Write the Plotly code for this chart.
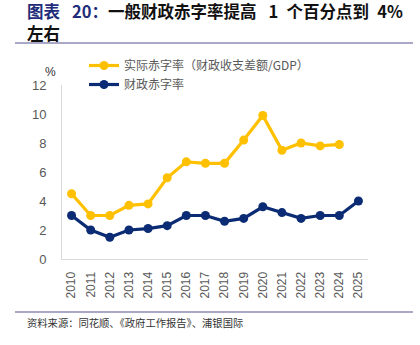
import plotly.graph_objects as go

# Years on the category axis
years = [str(y) for y in range(2010, 2026)]

# Actual deficit rate (fiscal revenue-expenditure gap / GDP), %; no 2025 value
actual_deficit = [4.5, 3.0, 3.0, 3.7, 3.8, 5.6, 6.7, 6.6, 6.6, 8.2, 9.9, 7.5, 8.0, 7.8, 7.9, None]
# Official budget deficit rate, %
budget_deficit = [3.0, 2.0, 1.5, 2.0, 2.1, 2.3, 3.0, 3.0, 2.6, 2.8, 3.6, 3.2, 2.8, 3.0, 3.0, 4.0]

y_ticks = [0, 2, 4, 6, 8, 10, 12]

W, H = 420, 345
L, R, T, B = 62, 52, 85, 86
PW, PH = W - L - R, H - T - B

YELLOW = "#FFC000"
NAVY = "#0B2C74"
GRAY = "#595959"
CJK = "Noto Sans CJK SC"
EN = "\u2002"


def px_x(x):
    return (x - L) / PW


def px_y(y):
    return (H - B - y) / PH


fig = go.Figure()
fig.add_trace(go.Scatter(
    x=years, y=actual_deficit, mode="lines+markers",
    name="实际赤字率（财政收支差额/GDP）",
    line=dict(color=YELLOW, width=3.2),
    marker=dict(color=YELLOW, size=9),
))
fig.add_trace(go.Scatter(
    x=years, y=budget_deficit, mode="lines+markers",
    name="财政赤字率",
    line=dict(color=NAVY, width=3.2),
    marker=dict(color=NAVY, size=9),
))

fig.update_layout(
    width=W, height=H,
    margin=dict(l=L, r=R, t=T, b=B, autoexpand=False),
    paper_bgcolor="white", plot_bgcolor="white",
    font=dict(family=CJK, color=GRAY),
    showlegend=True,
    legend=dict(
        x=px_x(84), y=px_y(51), xanchor="left", yanchor="top",
        bgcolor="rgba(0,0,0,0)",
        font=dict(size=12, color=GRAY, family=CJK),
        tracegroupgap=0, itemwidth=30,
    ),
    xaxis=dict(
        type="category", range=[-0.5, len(years) - 0.5],
        tickangle=-90, showgrid=False, automargin=False,
        showline=True, linecolor="#D9D9D9", linewidth=1,
        ticks="outside", ticklen=7, tickcolor="rgba(0,0,0,0)",
        tickfont=dict(size=12, color=GRAY, family="Liberation Sans"),
    ),
    yaxis=dict(
        range=[0, 12], tickvals=y_ticks, showgrid=False, zeroline=False,
        automargin=False,
        showline=True, linecolor="#D9D9D9", linewidth=1,
        ticks="outside", ticklen=12, tickcolor="rgba(0,0,0,0)",
        tickfont=dict(size=13, color=GRAY, family="Liberation Sans"),
    ),
)

# Title, set as two separate lines
title_lines = [
    (11, f"<span style='color:#1F2D7A'><b>图表{EN} 20：</b></span>"
         f"<b>一般财政赤字率提高{EN} 1{EN}个百分点到{EN}4%</b>"),
    (33, "<b>左右</b>"),
]
for ypx, line_text in title_lines:
    fig.add_annotation(
        xref="paper", yref="paper", x=px_x(25), y=px_y(ypx),
        xanchor="left", yanchor="middle", showarrow=False, align="left",
        text=line_text, font=dict(size=16.5, color="#111111", family=CJK),
    )

# Unit label above the value axis
fig.add_annotation(
    xref="paper", yref="paper", x=px_x(50), y=px_y(72),
    xanchor="center", yanchor="middle", showarrow=False,
    text="%", font=dict(size=12, color="#333333", family="Liberation Sans"),
)
# Source note
fig.add_annotation(
    xref="paper", yref="paper", x=px_x(25), y=px_y(322),
    xanchor="left", yanchor="middle", showarrow=False,
    text="资料来源：同花顺、《政府工作报告》、浦银国际",
    font=dict(size=10.3, color="#333333", family=CJK),
)

# Horizontal rules under the title and above the source
for ypx in (43, 312):
    fig.add_shape(
        type="line", xref="paper", yref="paper",
        x0=px_x(15), x1=px_x(413), y0=px_y(ypx), y1=px_y(ypx),
        line=dict(color="#8C8CB4", width=1.5),
    )

fig.write_html("out.html")
